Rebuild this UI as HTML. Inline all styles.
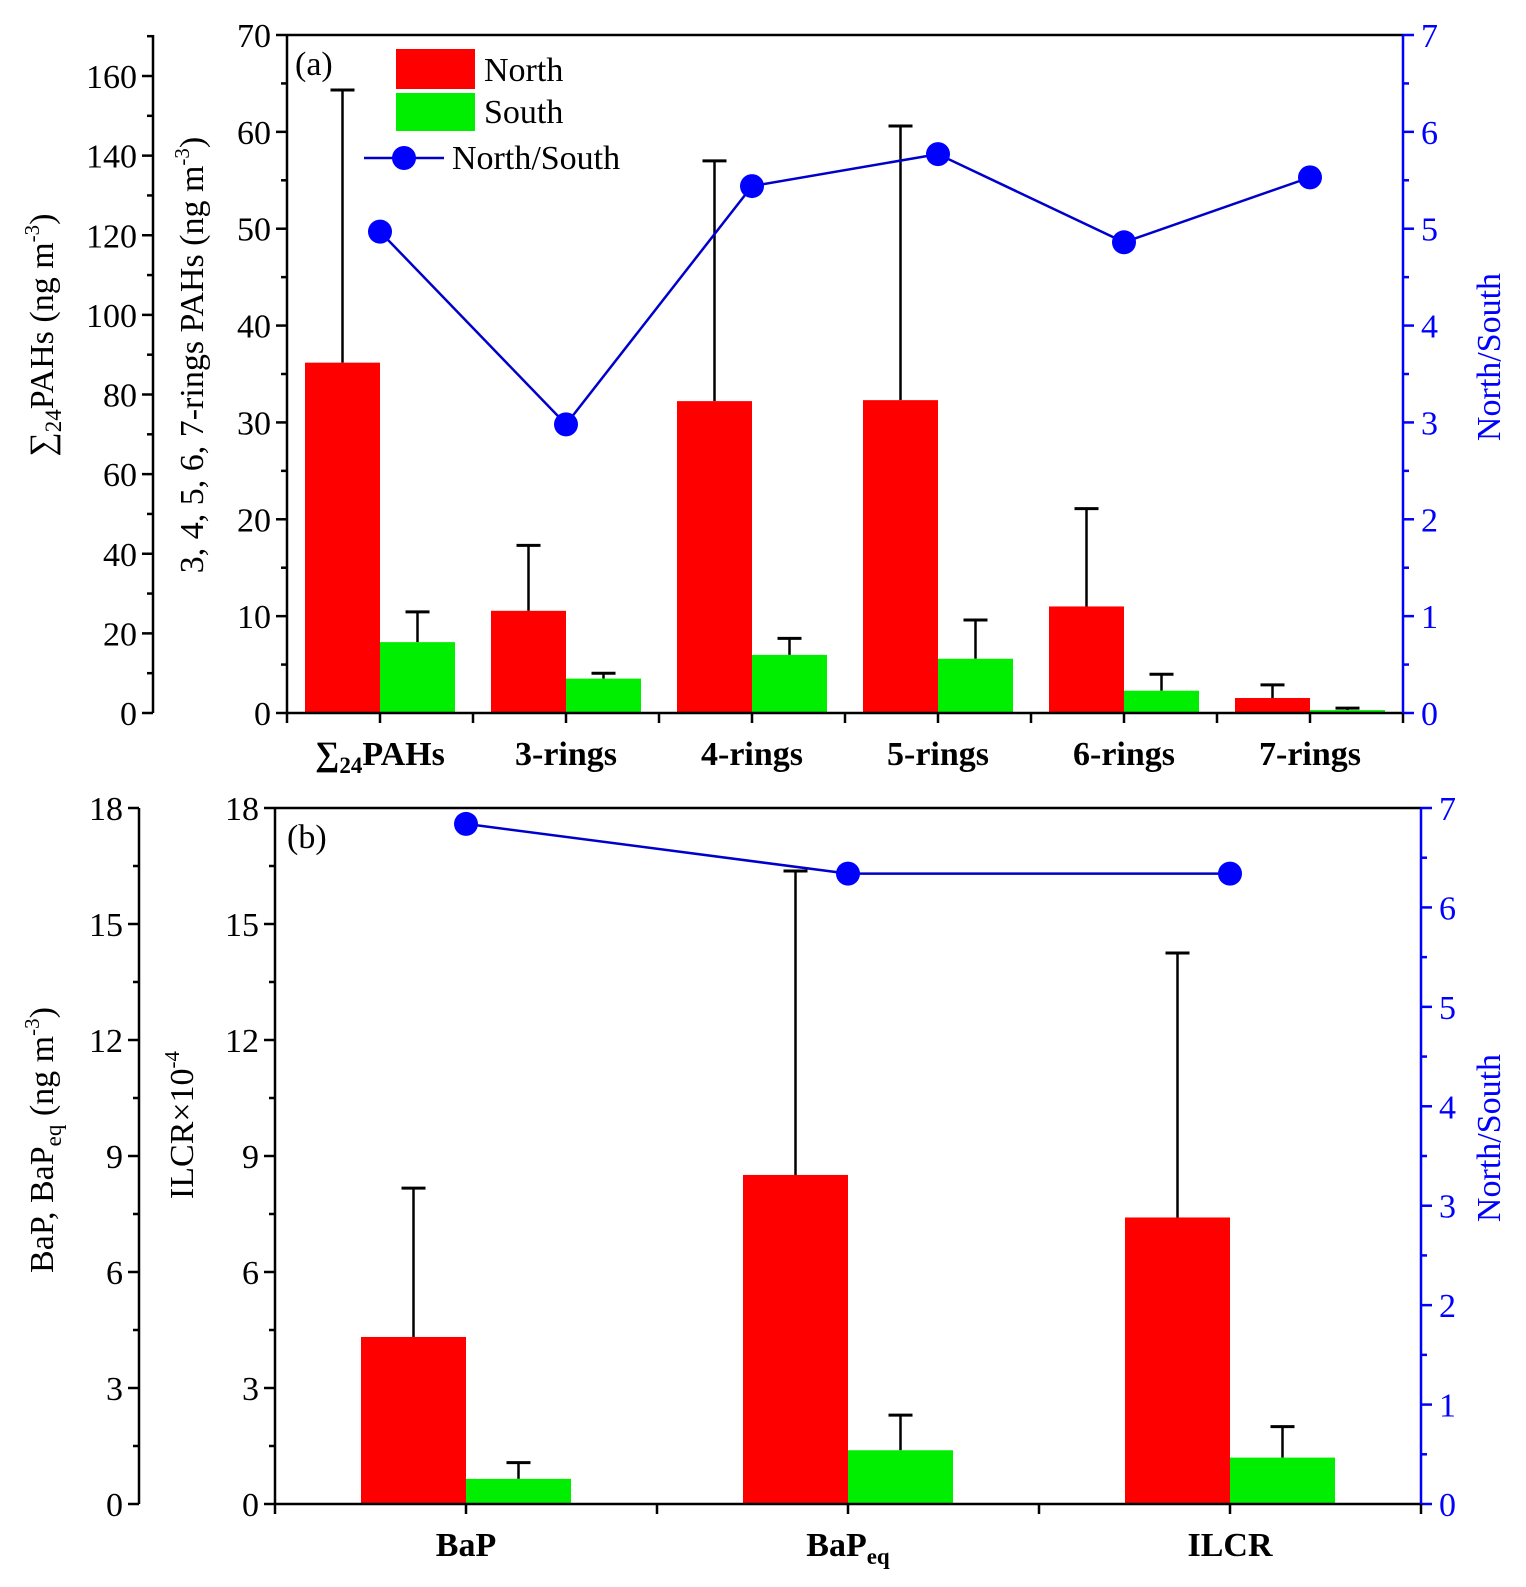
<!DOCTYPE html>
<html><head><meta charset="utf-8"><style>
body{margin:0;background:#fff}
svg{display:block;font-family:"Liberation Serif",serif}
</style></head><body>
<svg id="c" width="1526" height="1587" viewBox="0 0 1526 1587"></svg>
<script>
// Panel (a) data
const catsA = ["∑24PAHs","3-rings","4-rings","5-rings","6-rings","7-rings"];
const sumNorth = 88.0, sumNorthErr = 156.5, sumSouth = 17.8, sumSouthErr = 25.4; // outer axis units
const northA = [0, 10.55, 32.2, 32.3, 11.0, 1.55];
const northErrA = [0, 17.3, 57.0, 60.6, 21.1, 2.9];
const southA = [0, 3.55, 6.0, 5.6, 2.3, 0.3];
const southErrA = [0, 4.1, 7.7, 9.6, 4.0, 0.5];
const ratioA = [4.97, 2.98, 5.44, 5.77, 4.86, 5.53];
const outerTicksA = [0,20,40,60,80,100,120,140,160];
const innerTicksA = [0,10,20,30,40,50,60,70];
const rightTicksA = [0,1,2,3,4,5,6,7];
// Panel (b) data
const catsB = ["BaP","BaPeq","ILCR"];
const northB = [4.32, 8.51, 7.41];
const northErrB = [8.17, 16.37, 14.25];
const southB = [0.65, 1.39, 1.2];
const southErrB = [1.07, 2.3, 2.0];
const ratioB = [6.84, 6.34, 6.34];
const leftTicksB = [0,3,6,9,12,15,18];
const rightTicksB = [0,1,2,3,4,5,6,7];

const svg = document.getElementById('c');
const NS = "http://www.w3.org/2000/svg";
function el(tag, attrs, parent, name, inter){
  const e = document.createElementNS(NS, tag);
  for (const k in attrs) e.setAttribute(k, attrs[k]);
  
  
  (parent||svg).appendChild(e); return e;
}
function txt(x,y,s,attrs,name){
  const t = el('text', Object.assign({x:x,y:y,'font-size':34},attrs||{}), svg, name, false);
  t.innerHTML = s; return t;
}
function line(x1,y1,x2,y2,col,w,name){ return el('line',{x1,y1,x2,y2,stroke:col||'#000','stroke-width':w||2.5},svg,name,false); }

// ---------- Panel A ----------
const aL=287, aR=1403, aT=35, aB=713;
const yIn = v => aB - v*(aB-aT)/70;
const yOut = v => aB - v*(aB-aT)/170.3;
const yRA = v => aB - v*(aB-aT)/7;
const bwA = (aR-aL)/6;
const cxA = i => aL + bwA/2 + bwA*i;
const barW = 75;

function errBar(x, yBase, yTop, name){
  line(x, yBase, x, yTop, '#000', 2.5, name);
  line(x-12, yTop, x+12, yTop, '#000', 3, name+'-cap');
}
catsA.forEach((c,i)=>{
  const x = cxA(i);
  let nT, nE, sT, sE;
  if (i===0){ nT=yOut(sumNorth); nE=yOut(sumNorthErr); sT=yOut(sumSouth); sE=yOut(sumSouthErr); }
  else { nT=yIn(northA[i]); nE=yIn(northErrA[i]); sT=yIn(southA[i]); sE=yIn(southErrA[i]); }
  errBar(x-barW/2, nT, nE, 'north-error-'+i);
  errBar(x+barW/2, sT, sE, 'south-error-'+i);
  el('rect',{x:x-barW,y:nT,width:barW,height:aB-nT,fill:'#ff0000'},svg,'north-bar-'+i,false);
  el('rect',{x:x,y:sT,width:barW,height:aB-sT,fill:'#00ee00'},svg,'south-bar-'+i,false);
});
line(aL,aT,aR,aT,'#000',2.5,'top-axis-a');
line(aL,aT,aL,aB,'#000',2.5,'inner-left-axis-a');
line(aL,aB,aR,aB,'#000',2.5,'x-axis-a');
line(153,aT,153,aB,'#000',2.5,'outer-left-axis-a');
line(aR,aT,aR,aB,'#0000ff',2.5,'right-axis-a');
for(let v=0; v<=70; v+=5){ line(aL-(v%10?6:11),yIn(v),aL,yIn(v),'#000',2.5,'inner-tick-a'); }
innerTicksA.forEach(v=>txt(aL-16,yIn(v)+12,v,{'text-anchor':'end'},'inner-tick-label-a'));
for(let v=0; v<=170; v+=10){ line(153-(v%20?6:11),yOut(v),153,yOut(v),'#000',2.5,'outer-tick-a'); }
outerTicksA.forEach(v=>txt(137,yOut(v)+12,v,{'text-anchor':'end'},'outer-tick-label-a'));
for(let v=0; v<=7; v+=0.5){ line(aR,yRA(v),aR+(v%1?6:11),yRA(v),'#0000ff',2.5,'right-tick-a'); }
rightTicksA.forEach(v=>txt(aR+18,yRA(v)+12,v,{fill:'#0000ff'},'right-tick-label-a'));
for(let i=0;i<=6;i++){ line(aL+bwA*i,aB,aL+bwA*i,aB+10,'#000',2.5,'x-tick-a'); }
catsA.forEach((c,i)=>{ line(cxA(i),aB,cxA(i),aB+10,'#000',2.5,'x-tick-a');
  const s = i===0 ? '∑<tspan font-size="23" dy="8">24</tspan><tspan dy="-8">PAHs</tspan>' : c;
  txt(cxA(i),aB+52,s,{'text-anchor':'middle','font-weight':'bold'},'x-label-a');
});
const ptsA = ratioA.map((v,i)=>cxA(i)+','+yRA(v)).join(' ');
el('polyline',{points:ptsA,fill:'none',stroke:'#0000cc','stroke-width':2.5},svg,'ratio-line-a',false);
ratioA.forEach((v,i)=>el('circle',{cx:cxA(i),cy:yRA(v),r:12,fill:'#0000ff'},svg,'ratio-point-a',false));
// legend
el('rect',{x:396,y:49,width:79,height:40,fill:'#ff0000'},svg,'legend-north-swatch',false);
el('rect',{x:396,y:93,width:79,height:38,fill:'#00ee00'},svg,'legend-south-swatch',false);
txt(484,81,'North',{},'legend-north-label');
txt(484,123,'South',{},'legend-south-label');
line(364,158,444,158,'#0000cc',2.5,'legend-ratio-line');
el('circle',{cx:404,cy:158,r:12,fill:'#0000ff'},svg,'legend-ratio-marker',false);
txt(452,169,'North/South',{},'legend-ratio-label');
txt(295,75,'(a)',{},'panel-a-label');
txt(0,0,'∑<tspan font-size="23" dy="8">24</tspan><tspan dy="-8">PAHs (ng m</tspan><tspan font-size="21" dy="-14">-3</tspan><tspan dy="14">)</tspan>',{'text-anchor':'middle',transform:'translate(53,335) rotate(-90)'},'outer-y-title-a');
txt(0,0,'3, 4, 5, 6, 7-rings PAHs (ng m<tspan font-size="21" dy="-14">-3</tspan><tspan dy="14">)</tspan>',{'text-anchor':'middle',transform:'translate(203,355) rotate(-90)'},'inner-y-title-a');
txt(0,0,'North/South',{'text-anchor':'middle',fill:'#0000ff',transform:'translate(1500,357) rotate(-90)'},'right-y-title-a');

// ---------- Panel B ----------
const bL=275, bR=1421, bT=808, bB=1504, oB=139;
const yB = v => bB - v*(bB-bT)/18;
const yRB = v => bB - v*(bB-bT)/7;
const bwB = (bR-bL)/3;
const cxB = i => bL + bwB/2 + bwB*i;
const bw2 = 105;
catsB.forEach((c,i)=>{
  const x=cxB(i);
  errBar(x-bw2/2, yB(northB[i]), yB(northErrB[i]), 'north-error-b-'+i);
  errBar(x+bw2/2, yB(southB[i]), yB(southErrB[i]), 'south-error-b-'+i);
  el('rect',{x:x-bw2,y:yB(northB[i]),width:bw2,height:bB-yB(northB[i]),fill:'#ff0000'},svg,'north-bar-b-'+i,false);
  el('rect',{x:x,y:yB(southB[i]),width:bw2,height:bB-yB(southB[i]),fill:'#00ee00'},svg,'south-bar-b-'+i,false);
});
line(bL,bT,bR,bT,'#000',2.5,'top-axis-b');
line(bL,bT,bL,bB,'#000',2.5,'inner-left-axis-b');
line(bL,bB,bR,bB,'#000',2.5,'x-axis-b');
line(oB,bT,oB,bB,'#000',2.5,'outer-left-axis-b');
line(bR,bT,bR,bB,'#0000ff',2.5,'right-axis-b');
for(let v=0; v<=18; v+=1.5){ const maj = (v%3)===0;
  line(bL-(maj?11:6),yB(v),bL,yB(v),'#000',2.5,'inner-tick-b');
  line(oB-(maj?11:6),yB(v),oB,yB(v),'#000',2.5,'outer-tick-b'); }
leftTicksB.forEach(v=>{ txt(bL-16,yB(v)+12,v,{'text-anchor':'end'},'inner-tick-label-b');
  txt(oB-16,yB(v)+12,v,{'text-anchor':'end'},'outer-tick-label-b'); });
for(let v=0; v<=7; v+=0.5){ line(bR,yRB(v),bR+(v%1?6:11),yRB(v),'#0000ff',2.5,'right-tick-b'); }
rightTicksB.forEach(v=>txt(bR+18,yRB(v)+12,v,{fill:'#0000ff'},'right-tick-label-b'));
for(let i=0;i<=3;i++){ line(bL+bwB*i,bB,bL+bwB*i,bB+10,'#000',2.5,'x-tick-b'); }
catsB.forEach((c,i)=>{ line(cxB(i),bB,cxB(i),bB+10,'#000',2.5,'x-tick-b');
  const s = c==='BaPeq' ? 'BaP<tspan font-size="23" dy="8">eq</tspan>' : c;
  txt(cxB(i),bB+52,s,{'text-anchor':'middle','font-weight':'bold'},'x-label-b');
});
const ptsB = ratioB.map((v,i)=>cxB(i)+','+yRB(v)).join(' ');
el('polyline',{points:ptsB,fill:'none',stroke:'#0000cc','stroke-width':2.5},svg,'ratio-line-b',false);
ratioB.forEach((v,i)=>el('circle',{cx:cxB(i),cy:yRB(v),r:12,fill:'#0000ff'},svg,'ratio-point-b',false));
txt(287,848,'(b)',{},'panel-b-label');
txt(0,0,'BaP, BaP<tspan font-size="23" dy="8">eq</tspan><tspan dy="-8"> (ng m</tspan><tspan font-size="21" dy="-14">-3</tspan><tspan dy="14">)</tspan>',{'text-anchor':'middle',transform:'translate(53,1140) rotate(-90)'},'outer-y-title-b');
txt(0,0,'ILCR×10<tspan font-size="21" dy="-14">-4</tspan>',{'text-anchor':'middle',transform:'translate(193,1125) rotate(-90)'},'inner-y-title-b');
txt(0,0,'North/South',{'text-anchor':'middle',fill:'#0000ff',transform:'translate(1500,1138) rotate(-90)'},'right-y-title-b');
</script>
</body></html>
